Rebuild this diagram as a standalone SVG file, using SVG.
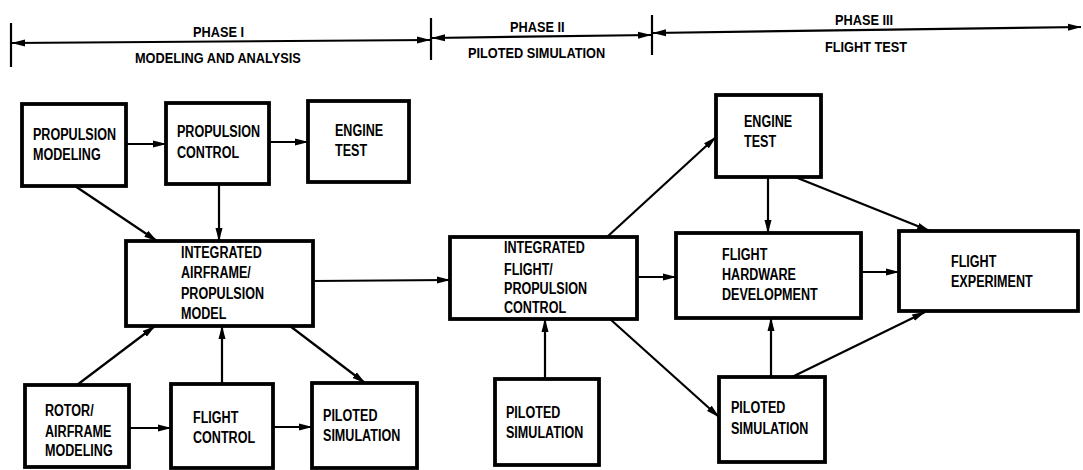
<svg xmlns="http://www.w3.org/2000/svg" width="1083" height="470" viewBox="0 0 1083 470">
<style>
.box{fill:#fff;stroke:#000;stroke-width:3.8}
.c{stroke:#000;stroke-width:2.2;fill:none}
.t{font-family:"Liberation Sans",Arial,sans-serif;font-weight:bold;font-size:17px;fill:#000;transform:scaleX(0.74);transform-box:fill-box;transform-origin:0 0}
.h{font-family:"Liberation Sans",Arial,sans-serif;font-weight:bold;font-size:14.5px;fill:#000;transform:scaleX(0.88);transform-box:fill-box;transform-origin:0 0}
</style>
<defs>
<marker id="ah" markerUnits="userSpaceOnUse" markerWidth="14" markerHeight="8" refX="13" refY="4" orient="auto-start-reverse" viewBox="0 0 14 8">
<path d="M0,0.5 L13.5,4 L0,7.5 z" fill="#000"/>
</marker>
</defs>
<rect width="1083" height="470" fill="#fff"/>
<g id="phases">
<line class="c" x1="11" y1="23" x2="11" y2="67"/>
<line class="c" x1="431" y1="18" x2="431" y2="60"/>
<line class="c" x1="652" y1="15" x2="652" y2="55"/>
<line class="c" x1="12" y1="43" x2="430" y2="40" marker-start="url(#ah)" marker-end="url(#ah)"/>
<line class="c" x1="432" y1="38" x2="651" y2="35" marker-start="url(#ah)" marker-end="url(#ah)"/>
<line class="c" x1="653" y1="33" x2="1081" y2="27" marker-start="url(#ah)" marker-end="url(#ah)"/>
<text class="h" x="193" y="37">PHASE I</text>
<text class="h" x="135" y="63">MODELING AND ANALYSIS</text>
<text class="h" x="510" y="32">PHASE II</text>
<text class="h" x="468" y="58">PILOTED SIMULATION</text>
<text class="h" x="835" y="25">PHASE III</text>
<text class="h" x="825" y="52">FLIGHT TEST</text>
</g>
<g id="connectors">
<line class="c" x1="126" y1="144" x2="166" y2="144" marker-end="url(#ah)"/>
<line class="c" x1="269" y1="142" x2="308" y2="142" marker-end="url(#ah)"/>
<line class="c" x1="75" y1="186" x2="157" y2="241" marker-end="url(#ah)"/>
<line class="c" x1="219" y1="184" x2="219" y2="241" marker-end="url(#ah)"/>
<line class="c" x1="77" y1="385" x2="155" y2="326" marker-end="url(#ah)"/>
<line class="c" x1="222" y1="384" x2="222" y2="326" marker-end="url(#ah)"/>
<line class="c" x1="129" y1="428" x2="171" y2="428" marker-end="url(#ah)"/>
<line class="c" x1="273" y1="427" x2="312" y2="427" marker-end="url(#ah)"/>
<line class="c" x1="290" y1="326" x2="365" y2="383" marker-end="url(#ah)"/>
<line class="c" x1="313" y1="281" x2="450" y2="280" marker-end="url(#ah)"/>
<line class="c" x1="607" y1="237" x2="716" y2="137" marker-end="url(#ah)"/>
<line class="c" x1="637" y1="277" x2="676" y2="277" marker-end="url(#ah)"/>
<line class="c" x1="610" y1="319" x2="719" y2="417" marker-end="url(#ah)"/>
<line class="c" x1="545" y1="379" x2="545" y2="319" marker-end="url(#ah)"/>
<line class="c" x1="768" y1="177" x2="768" y2="233" marker-end="url(#ah)"/>
<line class="c" x1="795" y1="177" x2="930" y2="231" marker-end="url(#ah)"/>
<line class="c" x1="861" y1="272" x2="899" y2="272" marker-end="url(#ah)"/>
<line class="c" x1="771" y1="377" x2="771" y2="318" marker-end="url(#ah)"/>
<line class="c" x1="792" y1="377" x2="925" y2="312" marker-end="url(#ah)"/>
</g>
<g id="propulsion-modeling">
<rect class="box" x="22" y="104" width="104" height="82"/>
<text class="t" x="33" y="140">PROPULSION<tspan x="33" y="160">MODELING</tspan></text>
</g>
<g id="propulsion-control">
<rect class="box" x="166" y="103" width="103" height="81"/>
<text class="t" x="177" y="137">PROPULSION<tspan x="177" y="158">CONTROL</tspan></text>
</g>
<g id="engine-test-1">
<rect class="box" x="308" y="101" width="101" height="81"/>
<text class="t" x="335" y="136">ENGINE<tspan x="335" y="156">TEST</tspan></text>
</g>
<g id="integrated-airframe-propulsion-model">
<rect class="box" x="126" y="241" width="187" height="85"/>
<text class="t" x="181" y="258">INTEGRATED<tspan x="181" y="278">AIRFRAME/</tspan><tspan x="181" y="299">PROPULSION</tspan><tspan x="181" y="319">MODEL</tspan></text>
</g>
<g id="rotor-airframe-modeling">
<rect class="box" x="25" y="385" width="104" height="82"/>
<text class="t" x="45" y="416">ROTOR/<tspan x="45" y="437">AIRFRAME</tspan><tspan x="45" y="456">MODELING</tspan></text>
</g>
<g id="flight-control">
<rect class="box" x="171" y="384" width="102" height="84"/>
<text class="t" x="193" y="423">FLIGHT<tspan x="193" y="443">CONTROL</tspan></text>
</g>
<g id="piloted-simulation-1">
<rect class="box" x="312" y="383" width="105" height="85"/>
<text class="t" x="323" y="421">PILOTED<tspan x="323" y="441">SIMULATION</tspan></text>
</g>
<g id="integrated-flight-propulsion-control">
<rect class="box" x="450" y="237" width="187" height="82"/>
<text class="t" x="504" y="253">INTEGRATED<tspan x="504" y="275">FLIGHT/</tspan><tspan x="504" y="294">PROPULSION</tspan><tspan x="504" y="313">CONTROL</tspan></text>
</g>
<g id="piloted-simulation-2">
<rect class="box" x="495" y="379" width="104" height="86"/>
<text class="t" x="506" y="418">PILOTED<tspan x="506" y="438">SIMULATION</tspan></text>
</g>
<g id="engine-test-2">
<rect class="box" x="716" y="95" width="105" height="82"/>
<text class="t" x="744" y="127">ENGINE<tspan x="744" y="147">TEST</tspan></text>
</g>
<g id="flight-hardware-development">
<rect class="box" x="676" y="233" width="185" height="85"/>
<text class="t" x="722" y="260">FLIGHT<tspan x="722" y="280">HARDWARE</tspan><tspan x="722" y="300">DEVELOPMENT</tspan></text>
</g>
<g id="flight-experiment">
<rect class="box" x="899" y="231" width="179" height="80"/>
<text class="t" x="951" y="267">FLIGHT<tspan x="951" y="287">EXPERIMENT</tspan></text>
</g>
<g id="piloted-simulation-3">
<rect class="box" x="719" y="377" width="106" height="85"/>
<text class="t" x="731" y="413">PILOTED<tspan x="731" y="434">SIMULATION</tspan></text>
</g>
</svg>
